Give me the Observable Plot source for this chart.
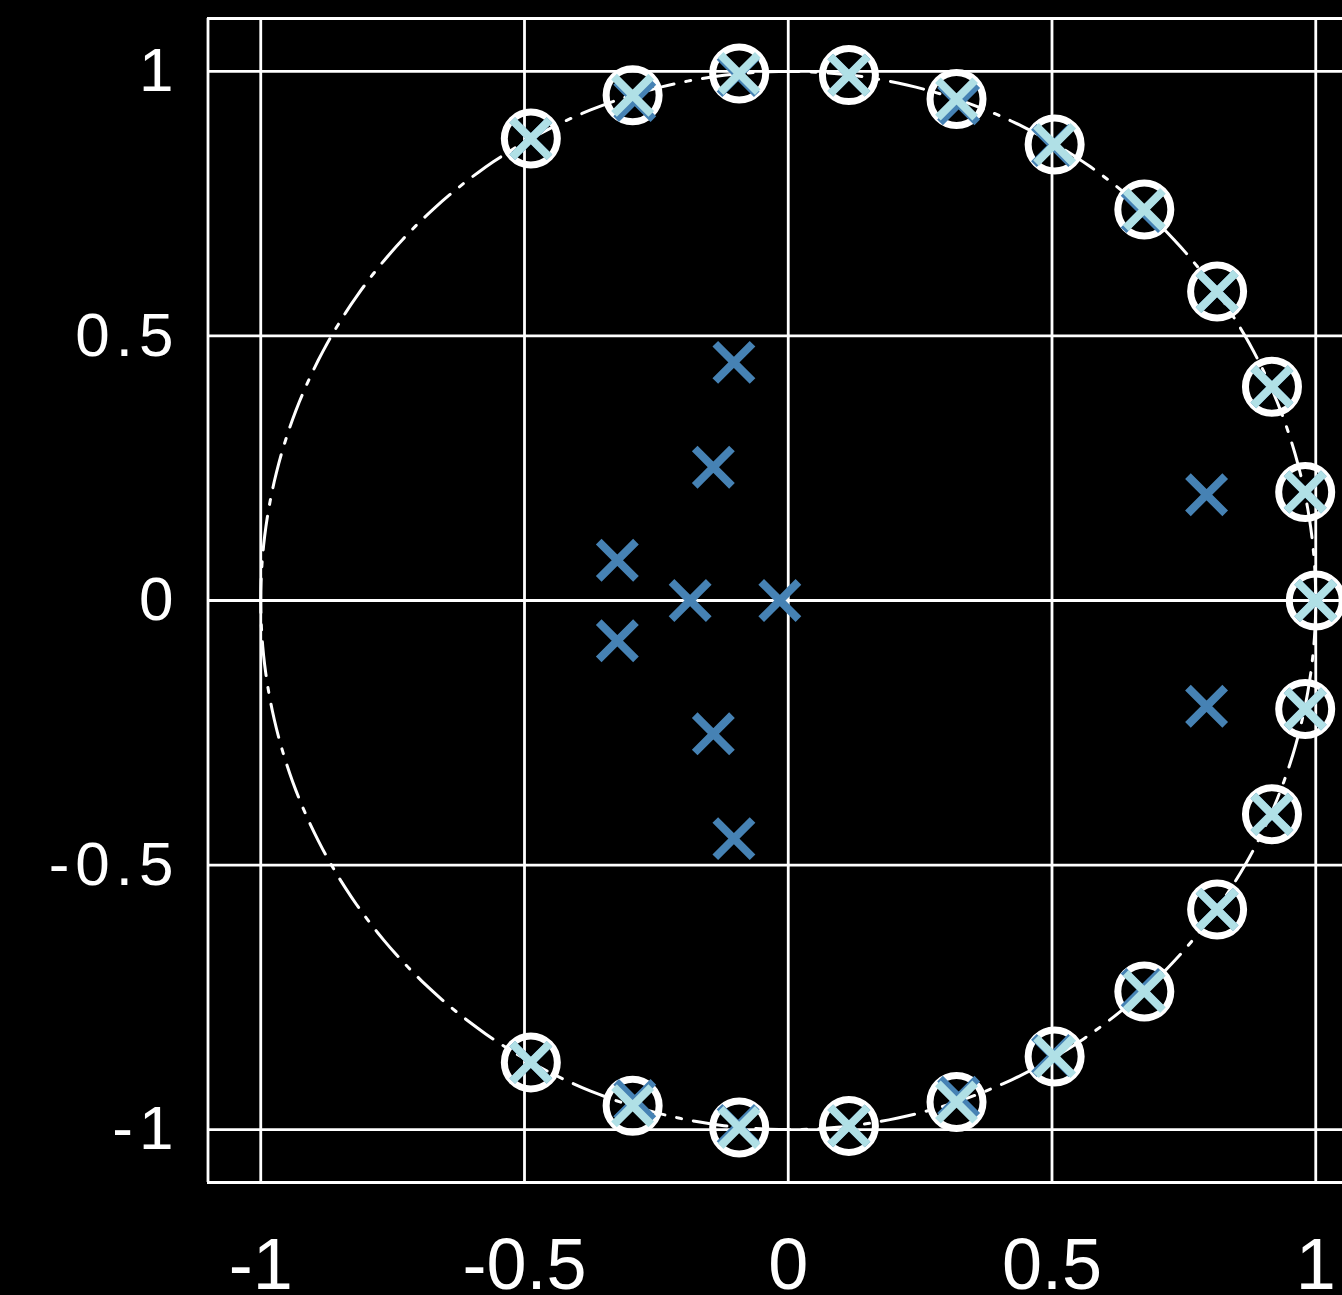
<!DOCTYPE html>
<html><head><meta charset="utf-8">
<script src="https://cdn.jsdelivr.net/npm/d3@7"></script>
<script src="https://cdn.jsdelivr.net/npm/@observablehq/plot@0.6"></script>
<style>
html,body{margin:0;padding:0;background:#000;overflow:hidden;}
#chart svg{display:block;}
g[aria-label="y-axis tick label"] text{letter-spacing:6px;}
</style></head><body><div id="chart"></div>
<script>
// zeros (white rings)
const zeroX = [1.0, 0.980, 0.917, 0.813, 0.675, 0.505, 0.319, 0.115, -0.093, -0.295, -0.488,
               0.980, 0.917, 0.813, 0.675, 0.505, 0.319, 0.115, -0.093, -0.295, -0.488];
const zeroY = [0, 0.205, 0.404, 0.584, 0.739, 0.862, 0.948, 0.993, 0.996, 0.955, 0.873,
               -0.205, -0.404, -0.584, -0.739, -0.862, -0.948, -0.993, -0.996, -0.955, -0.873];
// poles (steel blue crosses)
const poleX = [-0.103, -0.142, -0.324, -0.186, -0.016, -0.324, -0.142, -0.103, 0.793, 0.793,
               1.0, 0.980, 0.917, 0.813, 0.671, 0.501, 0.323, 0.115, -0.095, -0.291, -0.488,
               0.980, 0.917, 0.813, 0.671, 0.501, 0.323, 0.115, -0.095, -0.291, -0.488];
const poleY = [0.450, 0.252, 0.076, 0, 0, -0.076, -0.252, -0.450, 0.200, -0.200,
               0, 0.205, 0.404, 0.584, 0.735, 0.860, 0.939, 0.993, 0.992, 0.945, 0.873,
               -0.205, -0.404, -0.584, -0.735, -0.860, -0.939, -0.993, -0.992, -0.945, -0.873];
const ticks = [-1, -0.5, 0, 0.5, 1];
const frameEdges = [-1.1, 1.1];

const zeros = zeroX.map((x, i) => ({x, y: zeroY[i]}));
const poles = poleX.map((x, i) => ({x, y: poleY[i]}));
const unitCircle = d3.range(0, 361, 1).map(a => ({x: Math.cos(a * Math.PI / 180), y: Math.sin(a * Math.PI / 180)}));

const plot = Plot.plot({
  width: 1342, height: 1295,
  marginLeft: 207, marginRight: 0, marginTop: 18, marginBottom: 113,
  style: {background: "#000", color: "#fff", fontFamily: "'Liberation Sans', Arial, sans-serif"},
  x: {domain: [-1.1, 1.1], range: [207.5, 1368]},
  y: {domain: [-1.1, 1.1], range: [1182, 18]},
  marks: [
    Plot.ruleX(ticks, {stroke: "#fff", strokeWidth: 2.8}),
    Plot.ruleY(ticks, {stroke: "#fff", strokeWidth: 2.8}),
    Plot.ruleX([frameEdges[0]], {stroke: "#fff", strokeWidth: 2.8}),
    Plot.ruleY(frameEdges, {stroke: "#fff", strokeWidth: 2.8}),
    Plot.line(unitCircle, {x: "x", y: "y", stroke: "#fff", strokeWidth: 3, strokeDasharray: "34,12,5,12"}),
    Plot.dot(zeros, {x: "x", y: "y", r: 26.5, stroke: "#fff", strokeWidth: 7, fill: "none"}),
    Plot.dot(poles, {x: "x", y: "y", symbol: "times", r: 17, stroke: "#4682B4", strokeWidth: 8}),
    Plot.dot(zeros, {x: "x", y: "y", symbol: "times", r: 17, stroke: "#B0E0E6", strokeWidth: 8}),
    Plot.axisX(ticks, {tickSize: 0, tickPadding: 55, fontSize: 72, label: null, tickFormat: d => String(d)}),
    Plot.axisY(ticks, {tickSize: 0, tickPadding: 28, fontSize: 62, label: null, tickFormat: d => String(d)})
  ]
});
document.getElementById("chart").appendChild(plot);
</script></body></html>
